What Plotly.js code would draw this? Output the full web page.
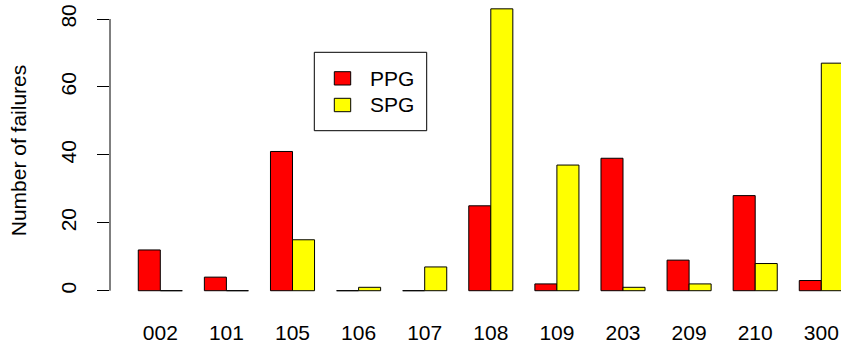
<!DOCTYPE html>
<html>
<head>
<meta charset="utf-8">
<script src="https://cdn.plot.ly/plotly-3.0.1.min.js"></script>
<style>html,body{margin:0;padding:0;background:#fff;}#chart{width:841px;height:351px;}</style>
</head>
<body>
<div id="chart"></div>
<script>
// ---- data ----
const categories = ["002", "101", "105", "106", "107", "108", "109", "203", "209", "210", "300"];
const ppg = [12, 4, 41, 0, 0, 25, 2, 39, 9, 28, 3];
const spg = [0, 0, 15, 1, 7, 83, 37, 1, 2, 8, 67];
const seriesNames = ["PPG", "SPG"];
const seriesColors = ["#FF0000", "#FFFF00"];
const yTicks = [0, 20, 40, 60, 80];

// ---- layout helpers (pixel -> paper) ----
const W = 841, H = 351, ML = 110, MR = 0, MT = 0, MB = 50;
const PW = W - ML - MR, PH = H - MT - MB;
const px = p => (p - ML) / PW;
const py = p => (PH + MT - p) / PH;

const font = "Liberation Sans, Arial, Helvetica, sans-serif";
const FS = 21;

const traces = [ppg, spg].map((vals, k) => ({
  type: "bar",
  x: categories,
  y: vals,
  name: seriesNames[k],
  marker: { color: seriesColors[k], line: { color: "#000000", width: 1 } },
  showlegend: false,
  hoverinfo: "x+y+name"
}));

const legendBox = { x0: 314.3, x1: 426.7, y0: 52.3, y1: 130.7 };
const swatches = [
  { x0: 334.3, x1: 350.7, y0: 71.7, y1: 85.0 },
  { x0: 334.3, x1: 350.7, y0: 98.3, y1: 111.7 }
];
const shapes = [
  // y axis line from 0 to 80 only (R style)
  { type: "line", xref: "paper", yref: "y", x0: 0, x1: 0, y0: yTicks[0], y1: yTicks[yTicks.length - 1],
    line: { color: "#000", width: 1 } },
  { type: "rect", xref: "paper", yref: "paper",
    x0: px(legendBox.x0), x1: px(legendBox.x1), y0: py(legendBox.y1), y1: py(legendBox.y0),
    line: { color: "#000", width: 1 }, fillcolor: "rgba(0,0,0,0)" }
].concat(swatches.map((s, k) => ({
  type: "rect", xref: "paper", yref: "paper",
  x0: px(s.x0), x1: px(s.x1), y0: py(s.y1), y1: py(s.y0),
  line: { color: "#000", width: 1 }, fillcolor: seriesColors[k]
})));

const annotations = seriesNames.map((n, k) => ({
  xref: "paper", yref: "paper",
  x: px(368), y: py((swatches[k].y0 + swatches[k].y1) / 2),
  xanchor: "left", yanchor: "middle",
  text: n, showarrow: false,
  font: { family: font, size: FS, color: "#000" }
}));

const layout = {
  width: W, height: H,
  margin: { l: ML, r: MR, t: MT, b: MB, pad: 0 },
  paper_bgcolor: "#fff", plot_bgcolor: "#fff",
  barmode: "group", bargap: 1 / 3, bargroupgap: 0,
  font: { family: font, size: FS, color: "#000" },
  xaxis: {
    type: "category",
    range: [-0.761, 10.298],
    showline: false, showgrid: false, zeroline: false,
    ticks: "", ticklabelstandoff: 17,
    tickfont: { family: font, size: FS, color: "#000" },
    fixedrange: true
  },
  yaxis: {
    range: [-3.03, 85.6],
    tickvals: yTicks, ticktext: yTicks.map(String),
    showline: false, showgrid: false, zeroline: false,
    ticks: "outside", ticklen: 12, tickwidth: 1, tickcolor: "#000",
    tickangle: -90, ticklabelstandoff: 13,
    tickfont: { family: font, size: FS, color: "#000" },
    title: { text: "Number of failures", font: { family: font, size: FS, color: "#000" }, standoff: 24 },
    fixedrange: true
  },
  shapes: shapes,
  annotations: annotations,
  showlegend: false
};

Plotly.newPlot("chart", traces, layout, { displayModeBar: false, staticPlot: true });
</script>
</body>
</html>
